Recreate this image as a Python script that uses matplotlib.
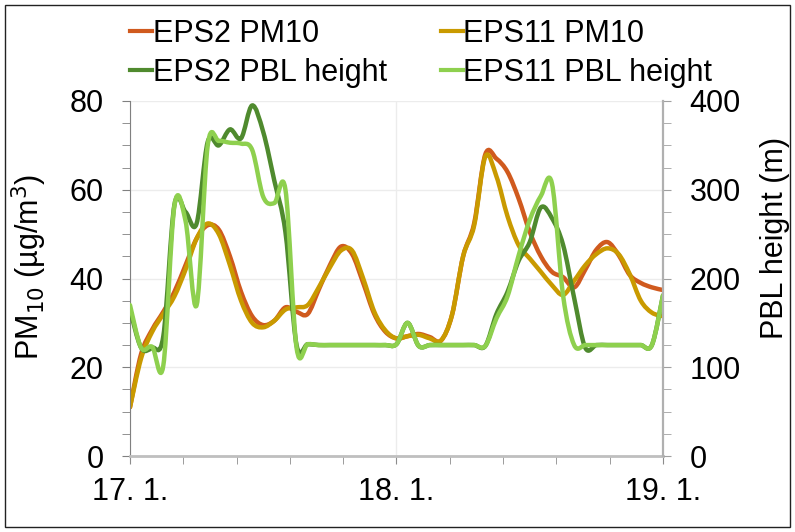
import matplotlib
matplotlib.use("Agg")
import matplotlib.pyplot as plt
from matplotlib.ticker import MultipleLocator, FixedLocator
from matplotlib.patches import Rectangle, PathPatch
from matplotlib.path import Path
from matplotlib.lines import Line2D

# hourly values, 17.1. 00:00 -> 19.1. 00:00
hours = list(range(49))
eps2_pm10 = [11, 23, 28.5, 32.5, 37, 43, 49, 52, 51, 45, 37, 31.5, 29.5, 30.5, 33.5, 32.5,
             32, 37.5, 43, 47.2, 45.5, 39, 32, 28, 26.5, 27, 27.5, 26.8, 26, 31.8, 45, 52.5,
             68, 67, 64, 58, 50.5, 45, 41.5, 40.3, 38, 42, 46.5, 48.2, 45.3, 40.8, 39, 38, 37.4]
eps11_pm10 = [11, 22, 28, 32, 36, 42, 49, 52.4, 50, 43, 35, 30, 29, 30.5, 33, 33.5,
              34, 38, 42.5, 46.3, 46.3, 40, 32.5, 28.3, 26.5, 27, 27.3, 26.5, 26, 31.8, 45, 52,
              67.5, 63, 54, 47.5, 44.5, 41.5, 38.5, 36.3, 39.5, 43, 45.5, 46.8, 45.5, 41, 35, 32.3, 31.5]
eps2_pbl = [165, 122, 122, 135, 283, 275, 262, 354, 350, 368, 358, 395, 365, 310, 252, 125,
            126, 125, 125, 125, 125, 125, 125, 125, 126, 150, 124, 125, 125, 125, 125, 125,
            124, 160, 185, 220, 241, 280, 268, 238, 178, 122, 125, 125, 125, 125, 125, 125, 181]
eps11_pbl = [170, 122, 123, 102, 282, 265, 170, 350, 355, 353, 352, 345, 292, 285, 300, 122,
             126, 125, 125, 125, 125, 125, 125, 125, 126, 150, 124, 125, 125, 125, 125, 125,
             124, 155, 180, 226, 266, 293, 307, 181, 125, 125, 125, 125, 125, 125, 125, 125, 181]

day_ticks = [0, 24, 48]
day_labels = ["17. 1.", "18. 1.", "19. 1."]

plt.rcParams["font.family"] = ["Liberation Sans", "DejaVu Sans"]
plt.rcParams["font.size"] = 22


def smooth_line(ax, x, y, color):
    # excel style smoothed line: cubic bezier through every point
    n = len(x)
    verts = [(x[0], y[0])]
    codes = [Path.MOVETO]
    for i in range(n - 1):
        xa, ya = (x[i-1], y[i-1]) if i > 0 else (x[i], y[i])
        xd, yd = (x[i+2], y[i+2]) if i + 2 < n else (x[i+1], y[i+1])
        verts.append((x[i] + (x[i+1] - xa) / 6, y[i] + (y[i+1] - ya) / 6))
        verts.append((x[i+1] - (xd - x[i]) / 6, y[i+1] - (yd - y[i]) / 6))
        verts.append((x[i+1], y[i+1]))
        codes += [Path.CURVE4] * 3
    ax.add_patch(PathPatch(Path(verts, codes), fill=False, edgecolor=color, lw=3.2,
                           capstyle="round", joinstyle="round"))
    return Line2D([], [], color=color, lw=3)


fig = plt.figure(figsize=(7.95, 5.32), dpi=100)
ax = fig.add_axes([130/795, 1-456/532, 533/795, 355/532])
ax2 = ax.twinx()

l1 = smooth_line(ax, hours, eps2_pm10, "#d05a1e")
l2 = smooth_line(ax, hours, eps11_pm10, "#c99a00")
l3 = smooth_line(ax2, hours, eps2_pbl, "#4f8a2e")
l4 = smooth_line(ax2, hours, eps11_pbl, "#8ed04e")

ax.set_xlim(0, 48)
ax.set_ylim(0, 80)
ax2.set_ylim(0, 400)

ax.xaxis.set_major_locator(FixedLocator(day_ticks))
ax.xaxis.set_minor_locator(MultipleLocator(4.8))
ax.set_xticklabels(day_labels)
ax.yaxis.set_major_locator(MultipleLocator(20))
ax.yaxis.set_minor_locator(MultipleLocator(5))
ax2.yaxis.set_major_locator(MultipleLocator(100))
ax2.yaxis.set_minor_locator(MultipleLocator(25))

ax.grid(True, which="major", color="#ececec", lw=1)
ax.set_axisbelow(True)

for a in (ax, ax2):
    for side in ("top", "left", "right", "bottom"):
        a.spines[side].set_visible(False)
ax.spines["left"].set_visible(True)
ax.spines["left"].set_color("#808080")
ax.spines["bottom"].set_visible(True)
ax.spines["bottom"].set_color("#bfbfbf")
ax.spines["bottom"].set_linewidth(2)
ax2.spines["right"].set_visible(True)
ax2.spines["right"].set_color("#b0b0b0")
ax2.spines["right"].set_linewidth(1.6)

ax.tick_params(axis="y", which="both", direction="out", length=6, color="#808080", pad=13)
ax.tick_params(axis="x", which="both", direction="out", length=6, color="#8c8c8c", pad=9)
ax2.tick_params(axis="y", which="both", direction="out", length=6, color="#a0a0a0", pad=13)

ax.set_ylabel("PM$_{10}$ (µg/m$^3$)")
ax.yaxis.set_label_coords(-0.152, 0.532)
ax2.set_ylabel("PBL height (m)")
ax2.yaxis.set_label_coords(1.182, 0.614)

# column-first fill, so the order gives PM10 on the top row
fig.legend(handles=[l1, l3, l2, l4],
           labels=["EPS2 PM10", "EPS2 PBL height", "EPS11 PM10", "EPS11 PBL height"],
           loc="upper left", bbox_to_anchor=(130/795, 1-19/532), ncol=2,
           frameon=False, handlelength=0.72, borderpad=0,
           handletextpad=0.03, columnspacing=1.75, labelspacing=0.3, borderaxespad=0)

fig.patches.append(Rectangle((5/795, 5/532), 785/795, 522/532, transform=fig.transFigure,
                             fill=False, edgecolor="#222222", lw=1))

fig.savefig("out.png", dpi=100)
